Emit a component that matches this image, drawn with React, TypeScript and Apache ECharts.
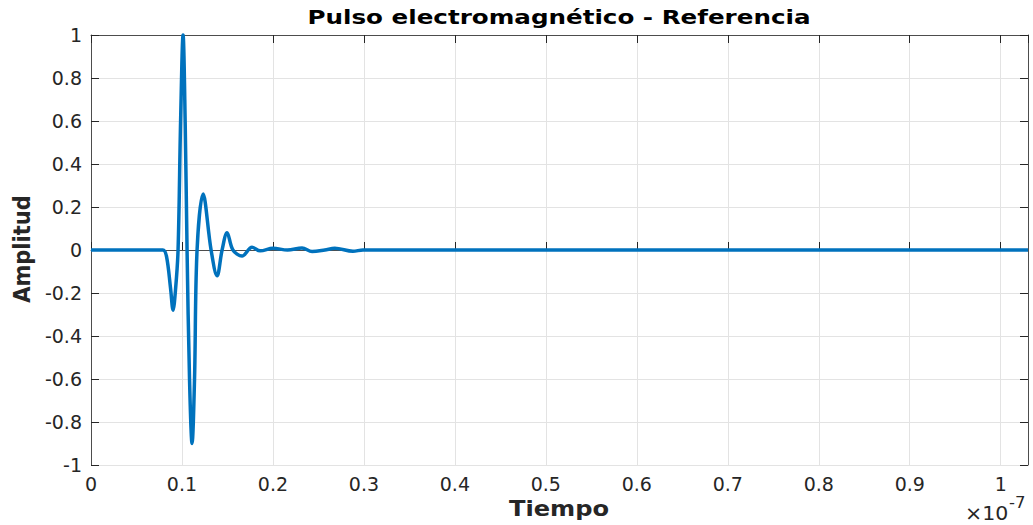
import React, { useEffect, useRef } from "react";
import * as echarts from "echarts";

// Time in units of 1e-7 s, amplitude normalised
const timeValues = [
  0, 0.079, 0.083, 0.0875, 0.0902, 0.093, 0.0957, 0.0985, 0.1012, 0.1035,
  0.1056, 0.1083, 0.1111, 0.1138, 0.1166, 0.1232, 0.132, 0.1386, 0.1441,
  0.1496, 0.156, 0.166, 0.177, 0.186, 0.2, 0.216, 0.232, 0.243, 0.257,
  0.268, 0.288, 0.299, 1.03,
];
const amplitudeValues = [
  0, 0, -0.03, -0.18, -0.28, -0.18, 0, 0.6, 1.0, 0.6,
  0, -0.6, -0.9, -0.6, 0, 0.26, 0, -0.12, 0,
  0.08, 0, -0.028, 0.013, -0.004, 0.008, 0, 0.009, -0.007, 0,
  0.008, -0.006, 0, 0,
];
const titleText = "Pulso electromagnético - Referencia";
const xName = "Tiempo";
const yName = "Amplitud";
const xMin = 0;
const xMax = 1.03;
const yMin = -1;
const yMax = 1;

const FONT = '"DejaVu Sans", sans-serif';

export default function App() {
  const ref = useRef<HTMLDivElement>(null);
  useEffect(() => {
    if (!ref.current) return;
    const chart = echarts.init(ref.current, undefined, { renderer: "svg" });
    const data = timeValues.map((t, i) => [t, amplitudeValues[i]]);
    const axisLineStyle = { color: "#4d4d4d", width: 1 };
    const tick = { show: true, inside: true, length: 8, lineStyle: { color: "#262626" } };
    chart.setOption({
      animation: false,
      textStyle: { fontFamily: FONT },
      grid: { left: 91, right: 5, top: 35, bottom: 60, containLabel: false },
      xAxis: [
        {
          type: "value",
          min: xMin,
          max: xMax,
          interval: 0.1,
          position: "bottom",
          axisLine: { show: true, lineStyle: axisLineStyle },
          axisTick: tick,
          splitLine: { show: true, lineStyle: { color: "#e3e3e3" } },
          axisLabel: {
            color: "#262626",
            fontSize: 19,
            fontFamily: FONT,
            margin: 9,
            showMaxLabel: false,
            formatter: (v: number) => {
              const r = Math.round(v * 10) / 10;
              if (Math.abs(v - r) > 1e-6) return "";
              return String(r);
            },
          },
        },
        {
          type: "value",
          min: xMin,
          max: xMax,
          interval: 0.1,
          position: "top",
          axisLine: { show: true, onZero: false, lineStyle: axisLineStyle },
          axisTick: tick,
          splitLine: { show: false },
          axisLabel: { show: false },
        },
      ],
      yAxis: [
        {
          type: "value",
          min: yMin,
          max: yMax,
          interval: 0.2,
          position: "left",
          axisLine: { show: true, onZero: false, lineStyle: axisLineStyle },
          axisTick: tick,
          splitLine: { show: true, lineStyle: { color: "#e3e3e3" } },
          axisLabel: {
            color: "#262626",
            fontSize: 19,
            fontFamily: FONT,
            margin: 9,
            formatter: (v: number) => String(Math.round(v * 10) / 10),
          },
        },
        {
          type: "value",
          min: yMin,
          max: yMax,
          interval: 0.2,
          position: "right",
          axisLine: { show: true, onZero: false, lineStyle: axisLineStyle },
          axisTick: tick,
          splitLine: { show: false },
          axisLabel: { show: false },
        },
      ],
      series: [
        {
          type: "line",
          data,
          xAxisIndex: 0,
          yAxisIndex: 0,
          smooth: 0.35,
          symbol: "none",
          lineStyle: { color: "#0072BD", width: 3.5 },
          clip: false,
        },
      ],
      graphic: [
        {
          type: "text",
          x: 559,
          y: 17,
          scaleX: 1.23,
          style: {
            text: titleText,
            fill: "#000",
            font: `bold 20px ${FONT}`,
            align: "center",
            verticalAlign: "middle",
          },
        },
        {
          type: "text",
          x: 559,
          y: 509,
          scaleX: 1.15,
          style: {
            text: xName,
            fill: "#262626",
            font: `bold 21px ${FONT}`,
            align: "center",
            verticalAlign: "middle",
          },
        },
        {
          type: "text",
          x: 22,
          y: 249,
          rotation: Math.PI / 2,
          scaleY: 1.1,
          style: {
            text: yName,
            fill: "#262626",
            font: `bold 21px ${FONT}`,
            align: "center",
            verticalAlign: "middle",
          },
        },
        {
          type: "text",
          x: 965,
          y: 514,
          scaleX: 1.08,
          style: {
            text: "×10",
            fill: "#262626",
            font: `19px ${FONT}`,
            align: "left",
            verticalAlign: "middle",
          },
        },
        {
          type: "text",
          x: 1009,
          y: 503,
          scaleX: 1.1,
          style: {
            text: "-7",
            fill: "#262626",
            font: `15px ${FONT}`,
            align: "left",
            verticalAlign: "middle",
          },
        },
      ],
    });
    return () => chart.dispose();
  }, []);
  return (
    <div
      ref={ref}
      style={{ position: "fixed", left: 0, top: 0, width: 1033, height: 525, background: "#fff" }}
    />
  );
}
